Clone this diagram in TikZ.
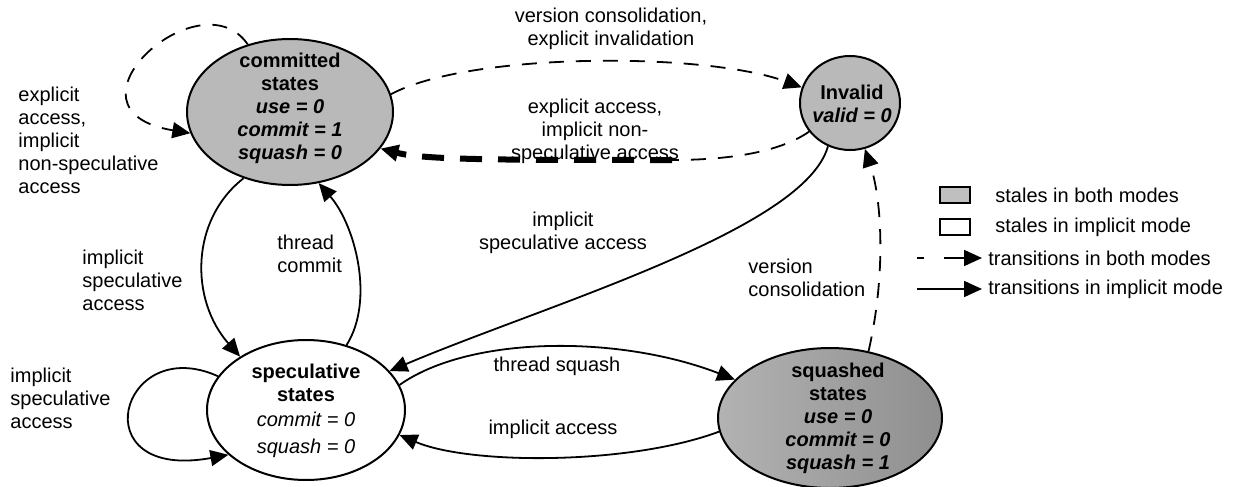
\documentclass[tikz,border=0pt]{standalone}
\usepackage{fontspec}
\setmainfont{Liberation Sans}
\usetikzlibrary{shapes.geometric,arrows.meta}
\tikzset{
  stnode/.style={ellipse, draw, line width=1pt, inner sep=0pt},
  fullst/.style={stnode, fill=gray!55},
  sttext/.style={align=center, inner sep=0pt},
  lbl/.style={align=center, inner sep=0pt},
  lbll/.style={align=left, inner sep=0pt, anchor=west},
  solidtr/.style={-{Triangle[length=9pt,width=8pt]}, line width=0.9pt},
  dashtr/.style={solidtr, dash pattern=on 7.5pt off 6pt},
  keybox/.style={draw, line width=1pt, minimum width=15pt, minimum height=8pt, inner sep=0pt},
}
\begin{document}
\begin{tikzpicture}[x=0.5pt, y=-0.5pt, font=\fontsize{10}{11.5}\selectfont]
\useasboundingbox (0,0) rectangle (1238,487);
% states
\node[fullst, minimum width=103pt, minimum height=73pt] (com) at (290,112) {};
\node[stnode, fill=white, minimum width=99pt, minimum height=70pt] (spec) at (306,410) {};
\node[fullst, minimum width=50pt, minimum height=47pt] (inv) at (850,103) {};
\node[stnode, left color=gray!60, right color=gray!88, minimum width=112pt, minimum height=70pt] (sq) at (830,418) {};
\node[sttext] (comtxt) at (290,108) {\textbf{committed}\\\textbf{states}\\\textbf{\textit{use = 0}}\\\textbf{\textit{commit = 1}}\\\textbf{\textit{squash = 0}}};
\node[sttext] (spectxt) at (306,411) {\textbf{speculative}\\\textbf{states}\\[1pt]\textit{commit = 0}\\[2pt]\textit{squash = 0}};
\node[sttext] (invtxt) at (852,104) {\textbf{Invalid}\\\textbf{\textit{valid = 0}}};
\node[sttext] (sqtxt) at (838,418) {\textbf{squashed}\\\textbf{states}\\\textbf{\textit{use = 0}}\\\textbf{\textit{commit = 0}}\\\textbf{\textit{squash = 1}}};
% transitions
\draw[dashtr] (com.122) .. controls (200,-25) and (50,110) .. (com.192);
\draw[dashtr] (com.10) .. controls (470,52) and (705,52) .. (inv.162);
\coordinate (brk) at (672,160);
\draw[line width=0.9pt, dash pattern=on 7.5pt off 6pt] (inv.215) .. controls (780,152) and (730,160) .. (brk);
\draw[dashtr, line width=3pt, dash pattern=on 11pt off 8pt] (brk) .. controls (500,160) and (425,160) .. (com.-22);
\draw[solidtr] (com.235) .. controls (190,220) and (190,300) .. (spec.141);
\draw[solidtr] (spec.58) .. controls (375,300) and (355,225) .. (com.-68);
\draw[solidtr] (spec.159) .. controls (120,332) and (80,482) .. (spec.210);
\draw[solidtr] (inv.243) .. controls (805,230) and (545,305) .. (spec.25);
\draw[solidtr] (spec.15) .. controls (470,335) and (620,335) .. (sq.158);
\draw[solidtr] (sq.187) .. controls (630,465) and (470,465) .. (spec.-15);
\draw[dashtr] (sq.60) .. controls (886,275) and (882,200) .. (inv.-72);
% labels
\node[lbl] (topl) at (611,29) {version consolidation,\\explicit invalidation};
\node[lbll] (loopl) at (18,140) {explicit\\access,\\implicit\\non-speculative\\access};
\node[lbl] (backl) at (595,131) {explicit access,\\implicit non-\\speculative access};
\node[lbll] (downl) at (82,280) {implicit\\speculative\\access};
\node[lbll] (upl) at (277,254) {thread\\commit};
\node[lbl] (diagl) at (563,233) {implicit\\speculative access};
\node[lbll] (consl) at (748,278) {version\\consolidation};
\node[lbll] (specl) at (10,398) {implicit\\speculative\\access};
\node[lbl] (sql) at (557,366) {thread squash};
\node[lbl] (accl) at (553,429) {implicit access};
% legend
\node[keybox, fill=gray!50] (key1) at (955,195) {};
\node[lbll] (key1t) at (995,195) {stales in both modes};
\node[keybox, fill=white] (key2) at (955,227) {};
\node[lbll] (key2t) at (995,227) {stales in implicit mode};
\coordinate (k3a) at (917,258); \coordinate (k3b) at (982,258);
\draw[dashtr, dash pattern=on 3.5pt off 10pt on 14pt off 2pt] (k3a) -- (k3b);
\node[lbll] (key3t) at (988,258) {transitions in both modes};
\coordinate (k4a) at (917,289); \coordinate (k4b) at (982,289);
\draw[solidtr] (k4a) -- (k4b);
\node[lbll] (key4t) at (988,289) {transitions in implicit mode};
\end{tikzpicture}
\end{document}
